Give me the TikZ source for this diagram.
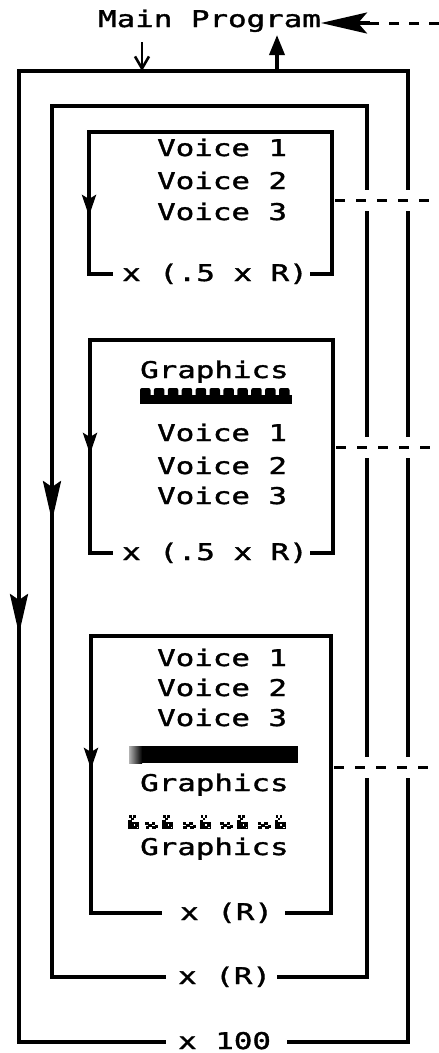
\documentclass[tikz,border=0pt]{standalone}
\usepackage{fontspec}
\newfontfamily\dm[FakeStretch=1.34,FakeBold=1.6]{DejaVu Sans Mono}
\usetikzlibrary{arrows.meta}
\begin{document}
\begin{tikzpicture}[x=1pt,y=-1pt,
  txt/.style={font={\dm\fontsize{23pt}{24pt}\selectfont}, inner sep=0pt, anchor=base west},
  frame/.style={line width=3.6pt, line join=miter},
  bighead/.style={-{Stealth[length=40pt,width=18pt,inset=6pt]}, line width=3.6pt},
  smallhead/.style={-{Stealth[length=21pt,width=14pt,inset=4pt]}, line width=3.6pt},
  dashline/.style={line width=3pt, dash pattern=on 10pt off 11pt},
  gapper/.style={white, line width=21pt},
  bugk/.pic={
    \fill (1,-1) rectangle (3.5,1.5); \fill (3,1.5) rectangle (5.5,4); \fill (5,-1) rectangle (7.5,1.5);
    \fill (0,3.5) rectangle (3.5,13); \fill (3,5.5) rectangle (11,13);
    \fill[white] (5.5,8) rectangle (7,9.5); \fill[white] (8.5,10.5) rectangle (10,12);
  },
  bugs/.pic={
    \fill (0,5.5) rectangle (3.5,9); \fill (3,8) rectangle (7,11); \fill (6.5,5.5) rectangle (10,9);
    \fill (0.5,10) rectangle (4,13); \fill (7,10) rectangle (11,13); \fill (10,8.5) rectangle (13,11.5);
  }]
\useasboundingbox (0,0) rectangle (439,1053);

% ---------- Main program ----------
\node[txt] (mp) at (98,27) {Main Program};
\coordinate (mpin) at (370,23);
\coordinate (mpfar) at (439,23);
\draw[line width=3pt, dash pattern=on 10pt off 10pt] (mpfar) -- (mpin);
\draw[line width=3.2pt, -{Stealth[length=46pt,width=21pt,inset=9pt]}] (mpin) -- (mp.east |- mpin);

% ---------- outer loop (x 100) ----------
\coordinate (t1a) at (142,71);
\coordinate (t1b) at (277,71);
\draw[frame] (287,1042) -| (408,71) -| (19,1042) -- (166,1042);
\node[txt] (l1) at (178,1049) {x 100};
\draw[line width=2.6pt, -{Straight Barb[length=12pt,width=14pt]}] (mp.south -| t1a) ++(0,10) -- (t1a);
\draw[line width=3.6pt, -{Triangle[length=20pt,width=15pt]}] (t1b) -- (277,35);
\draw[bighead] (19,590) -- (19,634);

% ---------- loop x (R) ----------
\draw[frame] (277,977) -| (367,106) -| (52,977) -- (166,977);
\node[txt] (l2) at (178,984) {x (R)};
\draw[bighead] (52,476) -- (52,521);

% ---------- box 3 ----------
\draw[frame] (310,274) -| (332,132) -| (89,274) -- (113,274);
\coordinate (b3r) at (332,200);
\node[txt] (l3) at (122,281) {x (.5 x R)};
\node[txt] (v31) at (157,156) {Voice 1};
\node[txt] (v32) at (157,189) {Voice 2};
\node[txt] (v33) at (157,220) {Voice 3};
\draw[smallhead] (89,193) -- (89,216);

% ---------- box 4 ----------
\draw[frame] (310,553) -| (333,340) -| (90,553) -- (113,553);
\coordinate (b4r) at (333,447);
\node[txt] (l4) at (122,560) {x (.5 x R)};
\node[txt] (g41) at (140,378) {Graphics};
\fill (140,395) rectangle (292,403.5);
\foreach \i in {0,...,10} {
  \fill[rounded corners=2pt] ({140+13.9*\i},388) rectangle ++(10.5,10);
}
\node[txt] (v41) at (157,441) {Voice 1};
\node[txt] (v42) at (157,474) {Voice 2};
\node[txt] (v43) at (157,504) {Voice 3};
\draw[smallhead] (90,430) -- (90,454);

% ---------- box 5 ----------
\draw[frame] (285,913) -| (331,636) -| (91,913) -- (162,913);
\coordinate (b5r) at (331,767);
\node[txt] (l5) at (180,920) {x (R)};
\node[txt] (v51) at (157,666) {Voice 1};
\node[txt] (v52) at (157,696) {Voice 2};
\node[txt] (v53) at (157,726) {Voice 3};
\shade[left color=black!30, right color=black] (129,746) rectangle (142,763);
\fill (141.5,746) rectangle (298,763);
\node[txt] (g51) at (140,791) {Graphics};
\pic at (128,816) {bugk};
\foreach \s in {145,182.5,220,257.5} {
  \pic at (\s,816) {bugs};
  \pic at (\s+17,816) {bugk};
}
\node[txt] (g52) at (140,855) {Graphics};
\draw[smallhead] (91,746) -- (91,769);

% ---------- dashed links to the right ----------
\coordinate (e3) at (439,200);
\coordinate (e4) at (439,447);
\coordinate (e5) at (439,767);
\foreach \a/\b in {b3r/e3,b4r/e4,b5r/e5} {
  \draw[gapper] ([xshift=14pt]\a) -- (\b);
  \draw[dashline] ([xshift=3pt]\a) -- (\b);
}
\end{tikzpicture}
\end{document}
